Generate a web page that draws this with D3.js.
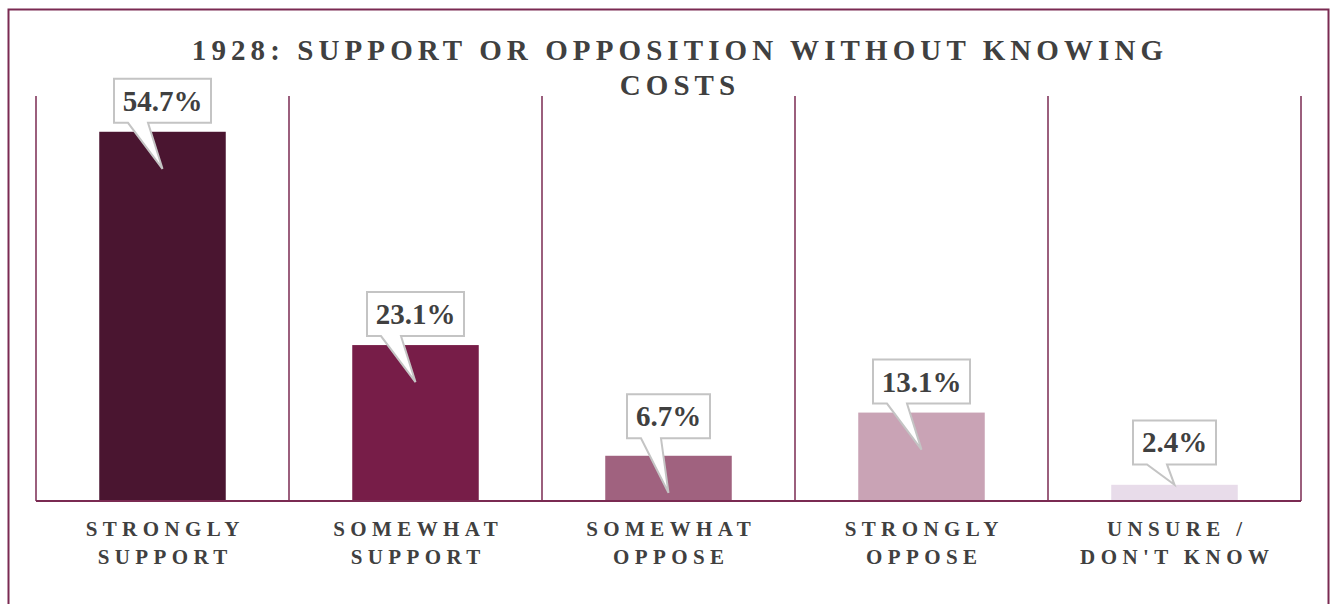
<!DOCTYPE html>
<html>
<head>
<meta charset="utf-8">
<script src="https://cdn.jsdelivr.net/npm/d3@7"></script>
<style>
  body { margin: 0; background: #fff; }
  text { font-family: "Liberation Serif", "DejaVu Serif", serif; fill: #404040; font-weight: bold; }
</style>
</head>
<body>
<div id="chart"></div>
<script>
// chart data
var categories = ["STRONGLY SUPPORT", "SOMEWHAT SUPPORT", "SOMEWHAT OPPOSE", "STRONGLY OPPOSE", "UNSURE / DON'T KNOW"];
var labelLines = [["STRONGLY", "SUPPORT"], ["SOMEWHAT", "SUPPORT"], ["SOMEWHAT", "OPPOSE"], ["STRONGLY", "OPPOSE"], ["UNSURE /", "DON'T KNOW"]];
var values = [54.7, 23.1, 6.7, 13.1, 2.4];
var barColors = ["#4a1530", "#771d48", "#a0627f", "#c9a3b5", "#e8dcea"];
var titleLines = ["1928: SUPPORT OR OPPOSITION WITHOUT KNOWING", "COSTS"];

var W = 1331, H = 604;
var lineColor = "#7a2a52";

var svg = d3.select("#chart")
  .append("svg")
  .attr("width", W)
  .attr("height", H);

// outer frame
svg.append("rect")
  .attr("x", 8.5)
  .attr("y", 9.5)
  .attr("width", 1320)
  .attr("height", 640)
  .style("fill", "none")
  .style("stroke", lineColor)
  .style("stroke-width", 2);

// scales
var x = d3.scaleBand()
  .domain(categories)
  .range([36, 1301])
  .paddingInner(0.5)
  .paddingOuter(0.25);

var y = d3.scaleLinear()
  .domain([0, 60])
  .range([501, 96]);

var step = x.step();

// title
svg.selectAll("text.title")
  .data(titleLines)
  .enter()
  .append("text")
  .attr("class", "title")
  .attr("x", 680)
  .attr("y", function(d, i) { return 60 + i * 35; })
  .attr("text-anchor", "middle")
  .attr("font-size", 29)
  .attr("letter-spacing", 5.1)
  .text(function(d) { return d; });

// bars
svg.selectAll("rect.bar")
  .data(values)
  .enter()
  .append("rect")
  .attr("class", "bar")
  .attr("x", function(d, i) { return x(categories[i]); })
  .attr("y", function(d) { return y(d); })
  .attr("width", x.bandwidth())
  .attr("height", function(d) { return y(0) - y(d); })
  .style("fill", function(d, i) { return barColors[i]; });

// vertical dividers between categories
var edges = d3.range(categories.length + 1).map(function(i) { return 36 + i * step; });
svg.selectAll("line.divider")
  .data(edges)
  .enter()
  .append("line")
  .attr("class", "divider")
  .attr("x1", function(d) { return d; })
  .attr("x2", function(d) { return d; })
  .attr("y1", y(60))
  .attr("y2", y(0))
  .style("stroke", lineColor)
  .style("stroke-width", 1.5);

// baseline
svg.append("line")
  .attr("x1", 36)
  .attr("x2", 1301)
  .attr("y1", y(0))
  .attr("y2", y(0))
  .style("stroke", lineColor)
  .style("stroke-width", 2);

// callouts
var callouts = svg.selectAll("g.callout")
  .data(values)
  .enter()
  .append("g")
  .attr("class", "callout");

callouts.each(function(d, i) {
  var g = d3.select(this);
  var cx = x(categories[i]) + x.bandwidth() / 2;
  var top = y(d);
  var txt = d.toFixed(1) + "%";
  var bw = txt.length > 4 ? 97 : 83;
  var bh = 44;
  var gap = (y(0) - top) < 60 ? 16 + (60 - (y(0) - top)) / 10 : 9;
  var bottom = top - gap;
  var left = cx - bw / 2;
  var tipY = (y(0) - top) < 20 ? top : Math.min(top + 37, y(0) - 5);
  var tipX = cx;
  var path = d3.path();
  path.moveTo(left, bottom - bh);
  path.lineTo(left + bw, bottom - bh);
  path.lineTo(left + bw, bottom);
  path.lineTo(left + 34, bottom);
  path.lineTo(tipX, tipY);
  path.lineTo(left + 14, bottom);
  path.lineTo(left, bottom);
  path.closePath();
  g.append("path")
    .attr("d", path.toString())
    .style("fill", "#fff")
    .style("stroke", "#c4c4c4")
    .style("stroke-width", 2)
    .style("stroke-linejoin", "miter");
  g.append("text")
    .attr("x", cx)
    .attr("y", bottom - 12)
    .attr("text-anchor", "middle")
    .attr("font-size", 29)
    .text(txt);
});

// category labels
var labels = svg.selectAll("text.cat")
  .data(labelLines)
  .enter()
  .append("text")
  .attr("class", "cat")
  .attr("text-anchor", "middle")
  .attr("font-size", 21)
  .attr("letter-spacing", 5.4);

labels.selectAll("tspan")
  .data(function(d, i) { return d.map(function(s) { return { s: s, i: i }; }); })
  .enter()
  .append("tspan")
  .attr("x", function(d) { return x(categories[d.i]) + x.bandwidth() / 2 + 2.7; })
  .attr("y", function(d, j) { return 536 + j * 28; })
  .text(function(d) { return d.s; });
</script>
</body>
</html>
